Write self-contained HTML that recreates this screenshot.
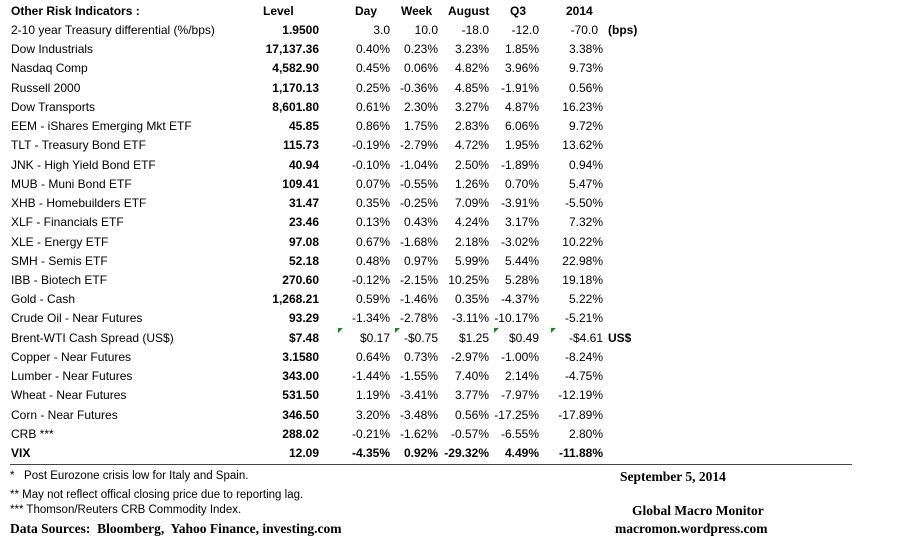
<!DOCTYPE html>
<html><head><meta charset="utf-8"><style>
body{margin:0;background:#fff;width:899px;height:557px;overflow:hidden;position:relative;font-family:"Liberation Sans",sans-serif;font-size:12px;color:#000}
.r{position:absolute;left:0;width:899px;height:19px;line-height:19px}
.r span{position:absolute;white-space:nowrap}
.n{left:11px}
.c{text-align:right}
.L{right:580px;font-weight:bold}
.D{right:509px}.W{right:461px}.A{right:410px}.Q{right:360px}.Y{right:296px}
.h{font-weight:bold;text-decoration:underline}
.tri{position:absolute;width:0;height:0;border-top:5px solid #1a8a1a;border-right:5px solid transparent}
.f{position:absolute;white-space:nowrap;font-size:11.5px}
.s{position:absolute;white-space:nowrap;font-family:"Liberation Serif",serif;font-weight:bold;font-size:13.5px}
</style></head><body>
<div class="r h" style="top:2px"><span class="n">Other Risk Indicators :</span><span style="left:263px">Level</span><span style="left:355px">Day</span><span style="left:401px">Week</span><span style="left:448px">August</span><span style="left:510px">Q3</span><span style="left:566px">2014</span></div>
<div id="rows"></div>
<div class="tri" style="left:338px;top:328px"></div>
<div class="tri" style="left:395px;top:328px"></div>
<div class="tri" style="left:494px;top:328px"></div>
<div class="tri" style="left:551px;top:328px"></div>
<div style="position:absolute;left:10px;top:464px;width:842px;height:1px;background:#444"></div>
<div class="f" style="left:10px;top:470px">*&nbsp;&nbsp; Post Eurozone crisis low for Italy and Spain.</div>
<div class="f" style="left:10px;top:489px">** May not reflect offical closing price due to reporting lag.</div>
<div class="f" style="left:10px;top:504px">*** Thomson/Reuters CRB Commodity Index.</div>
<div class="s" style="left:10px;top:521px">Data Sources:&nbsp; Bloomberg,&nbsp; Yahoo Finance, investing.com</div>
<div class="s" style="left:620px;top:469px">September 5, 2014</div>
<div class="s" style="left:632px;top:503px">Global Macro Monitor</div>
<div class="s" style="left:615px;top:521px">macromon.wordpress.com</div>
<script>
var d=[
["2-10 year Treasury differential (%/bps)","1.9500","3.0","10.0","-18.0","-12.0","-70.0","(bps)"],
["Dow Industrials","17,137.36","0.40%","0.23%","3.23%","1.85%","3.38%"],
["Nasdaq Comp","4,582.90","0.45%","0.06%","4.82%","3.96%","9.73%"],
["Russell 2000","1,170.13","0.25%","-0.36%","4.85%","-1.91%","0.56%"],
["Dow Transports","8,601.80","0.61%","2.30%","3.27%","4.87%","16.23%"],
["EEM - iShares Emerging Mkt ETF","45.85","0.86%","1.75%","2.83%","6.06%","9.72%"],
["TLT - Treasury Bond ETF","115.73","-0.19%","-2.79%","4.72%","1.95%","13.62%"],
["JNK - High Yield Bond ETF","40.94","-0.10%","-1.04%","2.50%","-1.89%","0.94%"],
["MUB - Muni Bond ETF","109.41","0.07%","-0.55%","1.26%","0.70%","5.47%"],
["XHB - Homebuilders ETF","31.47","0.35%","-0.25%","7.09%","-3.91%","-5.50%"],
["XLF - Financials ETF","23.46","0.13%","0.43%","4.24%","3.17%","7.32%"],
["XLE - Energy ETF","97.08","0.67%","-1.68%","2.18%","-3.02%","10.22%"],
["SMH - Semis ETF","52.18","0.48%","0.97%","5.99%","5.44%","22.98%"],
["IBB - Biotech ETF","270.60","-0.12%","-2.15%","10.25%","5.28%","19.18%"],
["Gold - Cash","1,268.21","0.59%","-1.46%","0.35%","-4.37%","5.22%"],
["Crude Oil - Near Futures","93.29","-1.34%","-2.78%","-3.11%","-10.17%","-5.21%"],
["Brent-WTI Cash Spread (US$)","$7.48","$0.17","-$0.75","$1.25","$0.49","-$4.61","US$"],
["Copper - Near Futures","3.1580","0.64%","0.73%","-2.97%","-1.00%","-8.24%"],
["Lumber - Near Futures","343.00","-1.44%","-1.55%","7.40%","2.14%","-4.75%"],
["Wheat - Near Futures","531.50","1.19%","-3.41%","3.77%","-7.97%","-12.19%"],
["Corn - Near Futures","346.50","3.20%","-3.48%","0.56%","-17.25%","-17.89%"],
["CRB ***","288.02","-0.21%","-1.62%","-0.57%","-6.55%","2.80%"],
["VIX","12.09","-4.35%","0.92%","-29.32%","4.49%","-11.88%"]];
var h="",cl=["L","D","W","A","Q","Y"];
d.forEach(function(r,i){
 h+='<div class="r" style="top:'+(21+i*19.23)+'px"><span class="n" style="'+(i==22?'font-weight:bold':'')+'">'+r[0]+'</span>';
 for(var k=0;k<6;k++){var y=(i==0&&k==5)?'right:301px;':'';h+='<span class="c '+cl[k]+'" style="'+y+(i==22?'font-weight:bold;':'')+'">'+r[k+1]+'</span>';}
 if(r[7])h+='<span style="left:'+(i==0?608:608)+'px;font-weight:bold">'+r[7]+'</span>';
 h+='</div>';});
document.getElementById("rows").innerHTML=h;
</script>
</body></html>
